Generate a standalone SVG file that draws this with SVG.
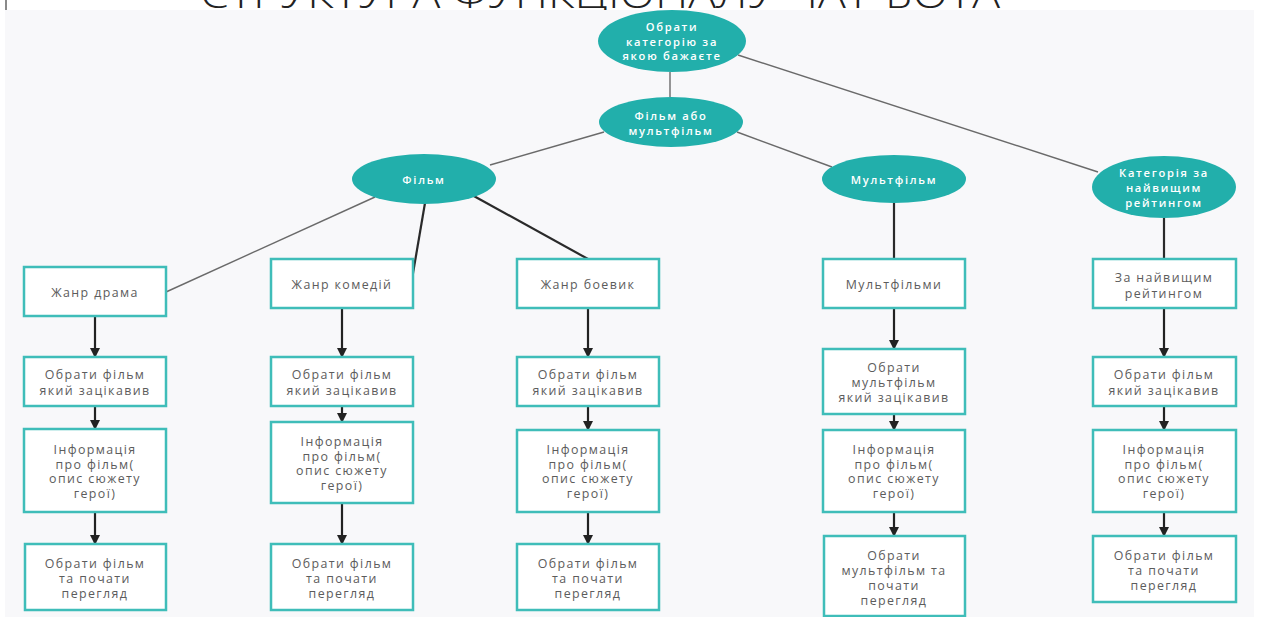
<svg xmlns="http://www.w3.org/2000/svg" width="1261" height="617" viewBox="0 0 1261 617">
<defs>
<style>
.ell{fill:#22afab;}
.box{fill:#ffffff;stroke:#3fbdb9;stroke-width:2.5;}
.et{font-family:"Open Sans","Liberation Sans",sans-serif;font-size:11.2px;font-weight:600;fill:#ffffff;text-anchor:middle;dominant-baseline:central;letter-spacing:1.7px;}
.bt{font-family:"Open Sans","Liberation Sans",sans-serif;font-size:12.4px;fill:#5c5c5c;text-anchor:middle;dominant-baseline:central;letter-spacing:1.4px;}
.thin{stroke:#6a6a6a;stroke-width:1.4;fill:none;}
.thick{stroke:#2a2a2a;stroke-width:2.2;fill:none;}
.arr{stroke:#222222;stroke-width:2.2;fill:none;marker-end:url(#ah);}
</style>
<marker id="ah" viewBox="0 0 10 10" refX="9" refY="5" markerUnits="userSpaceOnUse" markerWidth="13" markerHeight="10" orient="auto">
<path d="M0,0 L10,5 L0,10 Z" fill="#222222"/>
</marker>
</defs>
<rect x="0" y="0" width="1261" height="617" fill="#ffffff"/>
<text x="200" y="8" font-family="Open Sans, Liberation Sans, sans-serif" font-size="40" font-weight="300" fill="#222" textLength="800" lengthAdjust="spacingAndGlyphs">СТРУКТУРА ФУНКЦІОНАЛУ ЧАТ-БОТА</text>
<rect x="5" y="0" width="2" height="10" fill="#8a8a8a"/>
<rect x="5" y="10" width="1249" height="607" fill="#f8f8fa"/>

<g id="connectors">
<line class="thin" x1="670" y1="72" x2="670" y2="97"/>
<line class="thin" x1="738" y1="55" x2="1098" y2="172"/>
<line class="thin" x1="604" y1="132" x2="490" y2="165"/>
<line class="thin" x1="737" y1="132" x2="832" y2="167"/>
<line class="thin" x1="375" y1="197" x2="166" y2="292"/>
<line class="thick" x1="425" y1="203" x2="411" y2="285"/>
<line class="thick" x1="472" y1="195" x2="588" y2="259"/>
<line class="thick" x1="894" y1="203" x2="894" y2="259"/>
<line class="thick" x1="1164" y1="218" x2="1164" y2="259"/>
<line class="arr" x1="95" y1="316" x2="95" y2="357"/>
<line class="arr" x1="95" y1="406" x2="95" y2="429"/>
<line class="arr" x1="95" y1="512" x2="95" y2="544"/>
<line class="arr" x1="342" y1="308" x2="342" y2="357"/>
<line class="arr" x1="342" y1="406" x2="342" y2="422"/>
<line class="arr" x1="342" y1="503" x2="342" y2="544"/>
<line class="arr" x1="588" y1="308" x2="588" y2="357"/>
<line class="arr" x1="588" y1="406" x2="588" y2="430"/>
<line class="arr" x1="588" y1="512" x2="588" y2="544"/>
<line class="arr" x1="894" y1="308" x2="894" y2="349"/>
<line class="arr" x1="894" y1="414" x2="894" y2="430"/>
<line class="arr" x1="894" y1="512" x2="894" y2="536"/>
<line class="arr" x1="1164" y1="308" x2="1164" y2="357"/>
<line class="arr" x1="1164" y1="406" x2="1164" y2="430"/>
<line class="arr" x1="1164" y1="512" x2="1164" y2="536"/>
</g>

<g id="n-root"><ellipse class="ell" cx="672" cy="41" rx="74" ry="31"/>
<text class="et"><tspan x="672" y="26">Обрати</tspan><tspan x="672" y="40.5">категорію за</tspan><tspan x="672" y="55">якою бажаєте</tspan></text></g>
<g id="n-fm"><ellipse class="ell" cx="671" cy="122" rx="72" ry="25"/>
<text class="et"><tspan x="671" y="115">Фільм або</tspan><tspan x="671" y="129.5">мультфільм</tspan></text></g>
<g id="n-film"><ellipse class="ell" cx="424" cy="179" rx="72" ry="25"/>
<text class="et"><tspan x="424" y="179">Фільм</tspan></text></g>
<g id="n-mult"><ellipse class="ell" cx="894" cy="179" rx="72" ry="24"/>
<text class="et"><tspan x="894" y="179">Мультфільм</tspan></text></g>
<g id="n-rate"><ellipse class="ell" cx="1164" cy="187" rx="72" ry="31"/>
<text class="et"><tspan x="1164" y="172">Категорія за</tspan><tspan x="1164" y="187">найвищим</tspan><tspan x="1164" y="202">рейтингом</tspan></text></g>

<g id="c1-a"><rect class="box" x="24" y="267" width="142" height="49"/><text class="bt"><tspan x="95" y="292">Жанр драма</tspan></text></g>
<g id="c1-b"><rect class="box" x="24" y="357" width="142" height="49"/><text class="bt"><tspan x="95" y="374">Обрати фільм</tspan><tspan x="95" y="389.5">який зацікавив</tspan></text></g>
<g id="c1-c"><rect class="box" x="24" y="429" width="142" height="83"/><text class="bt"><tspan x="95" y="449">Інформація</tspan><tspan x="95" y="463.5">про фільм(</tspan><tspan x="95" y="478">опис сюжету</tspan><tspan x="95" y="493">герої)</tspan></text></g>
<g id="c1-d"><rect class="box" x="25" y="544" width="141" height="66"/><text class="bt"><tspan x="95" y="562.5">Обрати фільм</tspan><tspan x="95" y="577.5">та почати</tspan><tspan x="95" y="593">перегляд</tspan></text></g>

<g id="c2-a"><rect class="box" x="271" y="259" width="142" height="49"/><text class="bt"><tspan x="342" y="284">Жанр комедій</tspan></text></g>
<g id="c2-b"><rect class="box" x="271" y="357" width="142" height="49"/><text class="bt"><tspan x="342" y="374">Обрати фільм</tspan><tspan x="342" y="389.5">який зацікавив</tspan></text></g>
<g id="c2-c"><rect class="box" x="271" y="422" width="142" height="81"/><text class="bt"><tspan x="342" y="441">Інформація</tspan><tspan x="342" y="455.5">про фільм(</tspan><tspan x="342" y="470">опис сюжету</tspan><tspan x="342" y="485">герої)</tspan></text></g>
<g id="c2-d"><rect class="box" x="271" y="544" width="142" height="66"/><text class="bt"><tspan x="342" y="562.5">Обрати фільм</tspan><tspan x="342" y="577.5">та почати</tspan><tspan x="342" y="593">перегляд</tspan></text></g>

<g id="c3-a"><rect class="box" x="517" y="259" width="142" height="49"/><text class="bt"><tspan x="588" y="284">Жанр боевик</tspan></text></g>
<g id="c3-b"><rect class="box" x="517" y="357" width="142" height="49"/><text class="bt"><tspan x="588" y="374">Обрати фільм</tspan><tspan x="588" y="389.5">який зацікавив</tspan></text></g>
<g id="c3-c"><rect class="box" x="517" y="430" width="142" height="82"/><text class="bt"><tspan x="588" y="449">Інформація</tspan><tspan x="588" y="463.5">про фільм(</tspan><tspan x="588" y="478">опис сюжету</tspan><tspan x="588" y="493">герої)</tspan></text></g>
<g id="c3-d"><rect class="box" x="517" y="544" width="142" height="66"/><text class="bt"><tspan x="588" y="562.5">Обрати фільм</tspan><tspan x="588" y="577.5">та почати</tspan><tspan x="588" y="593">перегляд</tspan></text></g>

<g id="c4-a"><rect class="box" x="823" y="259" width="142" height="49"/><text class="bt"><tspan x="894" y="284">Мультфільми</tspan></text></g>
<g id="c4-b"><rect class="box" x="823" y="349" width="142" height="65"/><text class="bt"><tspan x="894" y="367">Обрати</tspan><tspan x="894" y="382">мультфільм</tspan><tspan x="894" y="397">який зацікавив</tspan></text></g>
<g id="c4-c"><rect class="box" x="823" y="430" width="142" height="82"/><text class="bt"><tspan x="894" y="449">Інформація</tspan><tspan x="894" y="463.5">про фільм(</tspan><tspan x="894" y="478">опис сюжету</tspan><tspan x="894" y="493">герої)</tspan></text></g>
<g id="c4-d"><rect class="box" x="824" y="536" width="141" height="80"/><text class="bt"><tspan x="894" y="555">Обрати</tspan><tspan x="894" y="570">мультфільм та</tspan><tspan x="894" y="585">почати</tspan><tspan x="894" y="600">перегляд</tspan></text></g>

<g id="c5-a"><rect class="box" x="1093" y="259" width="143" height="49"/><text class="bt"><tspan x="1164" y="277">За найвищим</tspan><tspan x="1164" y="292.5">рейтингом</tspan></text></g>
<g id="c5-b"><rect class="box" x="1093" y="357" width="143" height="49"/><text class="bt"><tspan x="1164" y="374">Обрати фільм</tspan><tspan x="1164" y="389.5">який зацікавив</tspan></text></g>
<g id="c5-c"><rect class="box" x="1093" y="430" width="143" height="82"/><text class="bt"><tspan x="1164" y="449">Інформація</tspan><tspan x="1164" y="463.5">про фільм(</tspan><tspan x="1164" y="478">опис сюжету</tspan><tspan x="1164" y="493">герої)</tspan></text></g>
<g id="c5-d"><rect class="box" x="1093" y="536" width="143" height="66"/><text class="bt"><tspan x="1164" y="554.5">Обрати фільм</tspan><tspan x="1164" y="569.5">та почати</tspan><tspan x="1164" y="585">перегляд</tspan></text></g>
</svg>
